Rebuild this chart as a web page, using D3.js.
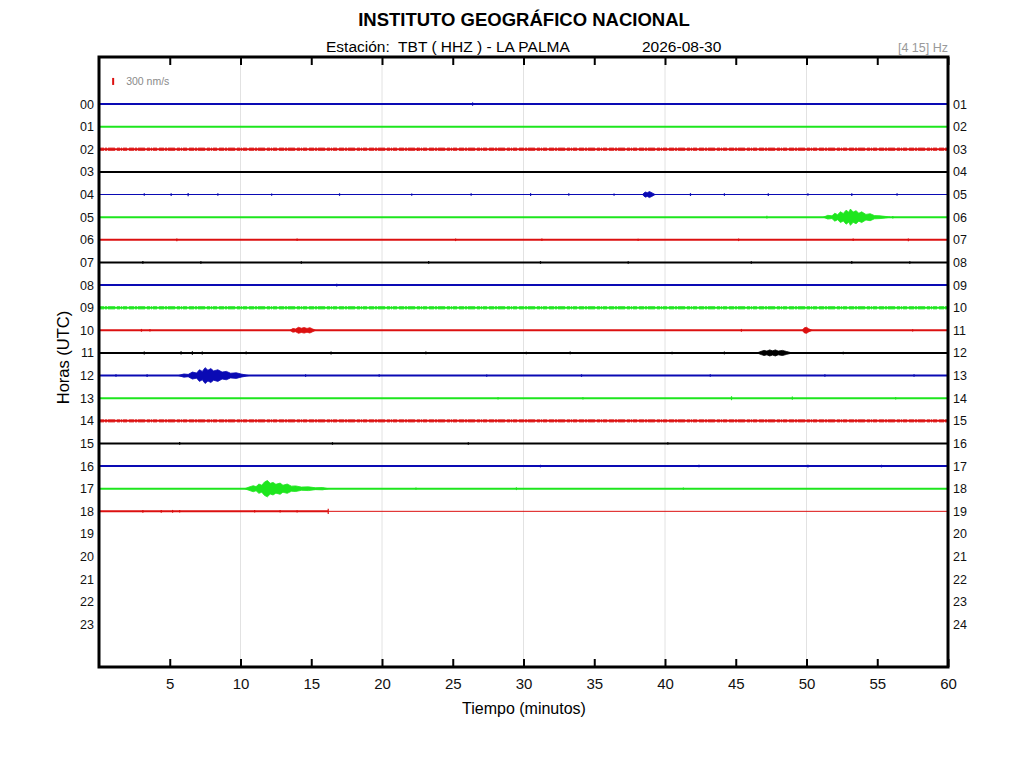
<!DOCTYPE html>
<html>
<head>
<meta charset="utf-8">
<script src="https://cdn.jsdelivr.net/npm/d3@7/dist/d3.min.js"></script>
<style>
  body { margin: 0; background: #fff; }
  svg { display: block; font-family: "Liberation Sans", Arial, sans-serif; }
</style>
</head>
<body>
<div id="chart"></div>
<script>
// datos del helicorder (amplitudes en nm/s, tiempos en minutos)
const hoursLeft = ['00','01','02','03','04','05','06','07','08','09','10','11',
                   '12','13','14','15','16','17','18','19','20','21','22','23'];
const hoursRight = ['01','02','03','04','05','06','07','08','09','10','11','12',
                    '13','14','15','16','17','18','19','20','21','22','23','24'];
const traceColors = ['#0a0ab4', '#1ee61e', '#dc1010', '#000000'];

// filas con datos (00..18) y ruido de fondo de cada fila
const rowNoise = [43, 43, 75, 43, 22, 43, 43, 43, 43, 75, 43, 43, 43, 43, 70, 43, 43, 43, 43];
// minuto en que termina la traza de cada fila
const rowEnd = [60, 60, 60, 60, 60, 60, 60, 60, 60, 60, 60, 60, 60, 60, 60, 60, 60, 60, 16.2];

// eventos: fila y envolvente [minuto, amplitud]
const events = [
    { row: 4,  env: [[38.4, 0], [38.6, 110], [38.75, 80], [38.9, 130], [39.1, 70], [39.3, 0]] },
    { row: 5,  env: [[51.2, 0], [51.5, 80], [51.8, 60], [52.0, 170], [52.2, 110], [52.4, 230],
                     [52.6, 160], [52.8, 300], [53.0, 210], [53.1, 350], [53.3, 220], [53.5, 280],
                     [53.7, 170], [53.9, 230], [54.2, 120], [54.5, 150], [54.8, 70], [55.2, 60],
                     [55.6, 30], [55.9, 0]] },
    { row: 10, env: [[13.5, 0], [13.7, 80], [13.9, 60], [14.1, 130], [14.3, 90], [14.5, 120],
                     [14.7, 80], [14.9, 115], [15.1, 60], [15.3, 0]] },
    { row: 10, env: [[49.7, 0], [49.85, 110], [50.0, 130], [50.15, 70], [50.4, 0]] },
    { row: 11, env: [[46.5, 0], [46.8, 70], [47.0, 110], [47.2, 80], [47.4, 130], [47.6, 90],
                     [47.8, 130], [48.0, 80], [48.3, 110], [48.6, 60], [49.0, 0]] },
    { row: 12, env: [[5.6, 0], [6.0, 70], [6.3, 50], [6.6, 150], [6.9, 110], [7.1, 250],
                     [7.3, 180], [7.5, 340], [7.7, 230], [7.9, 300], [8.1, 200], [8.4, 250],
                     [8.7, 150], [9.0, 180], [9.3, 100], [9.7, 120], [10.1, 60], [10.6, 0]] },
    { row: 17, env: [[10.3, 0], [10.6, 70], [10.9, 130], [11.1, 90], [11.3, 200], [11.5, 150],
                     [11.7, 290], [11.9, 350], [12.1, 230], [12.3, 270], [12.5, 190], [12.8, 240],
                     [13.0, 150], [13.3, 200], [13.6, 110], [13.9, 120], [14.3, 70], [14.8, 80],
                     [15.3, 40], [15.8, 50], [16.2, 0]] }
];

// picos sueltos: [fila, minuto, amplitud]
const spikes = [
    [0, 26.4, 70], [0, 39.1, 45],
    [2, 22.5, 70],
    [4, 3.2, 55], [4, 5.1, 60], [4, 6.3, 70], [4, 8.4, 55], [4, 12.2, 50], [4, 17.0, 55],
    [4, 22.1, 50], [4, 26.3, 55], [4, 30.5, 60], [4, 33.2, 55], [4, 36.4, 50], [4, 41.8, 60],
    [4, 44.2, 55], [4, 47.3, 60], [4, 50.1, 55], [4, 53.2, 60], [4, 56.4, 55],
    [5, 47.2, 60], [5, 56.1, 55],
    [6, 5.5, 60], [6, 14.0, 55], [6, 25.2, 55], [6, 31.3, 55], [6, 38.1, 50], [6, 45.2, 55],
    [6, 53.3, 55], [6, 57.2, 60],
    [7, 3.1, 60], [7, 7.2, 55], [7, 14.3, 55], [7, 23.3, 60], [7, 31.2, 55], [7, 37.4, 55],
    [7, 46.1, 55], [7, 53.2, 60], [7, 57.3, 55],
    [8, 16.8, 60],
    [10, 3.0, 60], [10, 3.6, 55], [10, 45.4, 60], [10, 57.5, 50],
    [11, 3.2, 65], [11, 5.8, 70], [11, 6.6, 75], [11, 7.3, 65], [11, 10.4, 60], [11, 16.4, 65],
    [11, 23.1, 60], [11, 30.2, 55], [11, 33.3, 60], [11, 40.5, 55], [11, 44.2, 60], [11, 52.6, 55],
    [12, 1.2, 55], [12, 3.4, 60], [12, 14.6, 55], [12, 19.8, 55], [12, 27.4, 50], [12, 34.1, 55],
    [12, 43.2, 55], [12, 51.3, 55], [12, 57.6, 55],
    [13, 28.2, 55], [13, 34.2, 55], [13, 44.7, 85], [13, 49.0, 70], [13, 56.3, 55],
    [15, 5.7, 60], [15, 16.5, 55], [15, 26.1, 55], [15, 40.2, 50],
    [16, 31.2, 55], [16, 42.4, 55], [16, 50.1, 60], [16, 55.3, 55],
    [17, 29.5, 60], [17, 22.4, 50], [17, 41.3, 50],
    [18, 3.1, 60], [18, 4.4, 60], [18, 5.2, 60], [18, 5.7, 55], [18, 11.0, 55], [18, 12.8, 55],
    [18, 14.0, 50], [18, 16.2, 110]
];

const minuteTicks = [5, 10, 15, 20, 25, 30, 35, 40, 45, 50, 55, 60];
const gridMinutes = [10, 20, 30, 40, 50];
const scaleBarValue = 300;

const width = 1024, height = 768;
const frame = { left: 99, right: 948, top: 57, bottom: 667 };

const svg = d3.select("#chart").append("svg")
    .attr("width", width)
    .attr("height", height);

const x = d3.scaleLinear().domain([0, 60]).range([frame.left, frame.right]);
const y = d3.scaleLinear().domain([-2.08, 24.88]).range([frame.top, frame.bottom]);
// 300 nm/s -> 7 px
const amp = d3.scaleLinear().domain([0, scaleBarValue]).range([0, 7]);

// rejilla vertical
svg.append("g").selectAll("line")
    .data(gridMinutes)
    .enter().append("line")
    .attr("x1", d => x(d)).attr("x2", d => x(d))
    .attr("y1", frame.top).attr("y2", frame.bottom)
    .style("stroke", "#e2e2e2")
    .style("stroke-width", 1);

// trazas
const traces = svg.append("g");
rowNoise.forEach((noise, i) => {
    const color = traceColors[i % 4];
    const yy = y(i);
    const end = rowEnd[i];
    if (noise > 60) {
        // banda de ruido
        traces.append("line")
            .attr("x1", x(0)).attr("x2", x(end))
            .attr("y1", yy).attr("y2", yy)
            .style("stroke", color)
            .style("stroke-width", 2 * amp(noise))
            .style("stroke-dasharray", "5 1 2 1 7 2 3 1 1 1 4 2")
            .style("opacity", 0.7);
        traces.append("line")
            .attr("x1", x(0)).attr("x2", x(end))
            .attr("y1", yy).attr("y2", yy)
            .style("stroke", color)
            .style("stroke-width", 2);
    } else {
        traces.append("line")
            .attr("x1", x(0)).attr("x2", x(end))
            .attr("y1", yy).attr("y2", yy)
            .style("stroke", color)
            .style("stroke-width", Math.max(1, 2 * amp(noise)));
    }
    if (end < 60) {
        // linea fina hasta el final de la hora
        traces.append("line")
            .attr("x1", x(end)).attr("x2", x(60))
            .attr("y1", yy).attr("y2", yy)
            .style("stroke", color)
            .style("stroke-width", 1);
    }
});

// picos
traces.append("g").selectAll("line")
    .data(spikes)
    .enter().append("line")
    .attr("x1", d => x(d[1])).attr("x2", d => x(d[1]))
    .attr("y1", d => y(d[0]) - amp(d[2]))
    .attr("y2", d => y(d[0]) + amp(d[2]))
    .style("stroke", d => traceColors[d[0] % 4])
    .style("stroke-width", 1.2);

// eventos (envolventes)
const envArea = d3.area()
    .x(d => x(d[0]))
    .y0(d => -amp(d[1]))
    .y1(d => amp(d[1]))
    .curve(d3.curveLinear);

traces.append("g").selectAll("path")
    .data(events)
    .enter().append("path")
    .attr("transform", d => `translate(0,${y(d.row)})`)
    .attr("d", d => envArea(d.env))
    .style("fill", d => traceColors[d.row % 4])
    .style("stroke", d => traceColors[d.row % 4])
    .style("stroke-width", 0.8);

// barra de escala
svg.append("line")
    .attr("x1", x(1)).attr("x2", x(1))
    .attr("y1", y(-1) - amp(scaleBarValue) / 2)
    .attr("y2", y(-1) + amp(scaleBarValue) / 2)
    .style("stroke", "#dc1010")
    .style("stroke-width", 2);
svg.append("text")
    .attr("x", x(1) + 13)
    .attr("y", y(-1) + 4)
    .style("font-size", "10.5px")
    .style("fill", "#8a8a8a")
    .text(scaleBarValue + " nm/s");

// ejes
const xBottom = svg.append("g")
    .attr("transform", `translate(0,${frame.bottom})`)
    .call(d3.axisBottom(x).tickValues(minuteTicks).tickSizeInner(-8).tickSizeOuter(0).tickPadding(11));
const xTop = svg.append("g")
    .attr("transform", `translate(0,${frame.top})`)
    .call(d3.axisTop(x).tickValues(minuteTicks).tickSizeInner(-8).tickSizeOuter(0).tickFormat(""));
[xBottom, xTop].forEach(g => {
    g.select(".domain").remove();
    g.selectAll(".tick line").style("stroke", "#000").style("stroke-width", 2);
    g.selectAll(".tick text")
        .style("font-family", "'Liberation Sans', Arial, sans-serif")
        .style("font-size", "15px")
        .style("fill", "#111");
});

const yLeft = svg.append("g")
    .attr("transform", `translate(${frame.left},0)`)
    .call(d3.axisLeft(y).tickValues(d3.range(hoursLeft.length))
        .tickFormat(i => hoursLeft[i]).tickSize(0).tickPadding(5));
const yRight = svg.append("g")
    .attr("transform", `translate(${frame.right},0)`)
    .call(d3.axisRight(y).tickValues(d3.range(hoursRight.length))
        .tickFormat(i => hoursRight[i]).tickSize(0).tickPadding(5));
[yLeft, yRight].forEach(g => {
    g.select(".domain").remove();
    g.selectAll(".tick text")
        .style("font-family", "'Liberation Sans', Arial, sans-serif")
        .style("font-size", "12.5px")
        .style("fill", "#111");
});

// marco
svg.append("rect")
    .attr("x", frame.left).attr("y", frame.top)
    .attr("width", frame.right - frame.left)
    .attr("height", frame.bottom - frame.top)
    .style("fill", "none")
    .style("stroke", "#000")
    .style("stroke-width", 3);

// textos
svg.append("text")
    .attr("x", 524).attr("y", 26)
    .attr("text-anchor", "middle")
    .style("font-size", "18.5px")
    .style("font-weight", "bold")
    .text("INSTITUTO GEOGRÁFICO NACIONAL");
svg.append("text")
    .attr("x", 326).attr("y", 52)
    .style("font-size", "15.5px")
    .attr("xml:space", "preserve")
    .text("Estación:  TBT ( HHZ ) - LA PALMA");
svg.append("text")
    .attr("x", 642).attr("y", 52)
    .style("font-size", "15.5px")
    .text("2026-08-30");
svg.append("text")
    .attr("x", 948).attr("y", 52)
    .attr("text-anchor", "end")
    .style("font-size", "12.5px")
    .style("fill", "#999")
    .text("[4 15] Hz");
svg.append("text")
    .attr("x", 524).attr("y", 714)
    .attr("text-anchor", "middle")
    .style("font-size", "16px")
    .text("Tiempo (minutos)");
svg.append("text")
    .attr("transform", `translate(69,${y(11.2)}) rotate(-90)`)
    .attr("text-anchor", "middle")
    .style("font-size", "16.5px")
    .text("Horas (UTC)");
</script>
</body>
</html>
